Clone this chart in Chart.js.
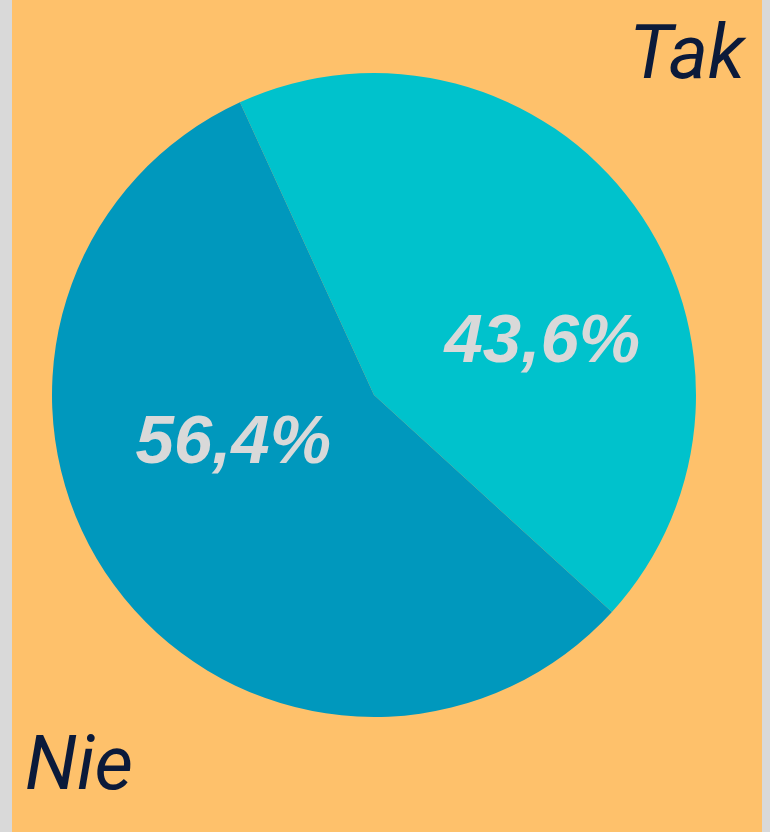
<!DOCTYPE html>
<html>
<head>
<meta charset="utf-8">
<script src="https://cdn.jsdelivr.net/npm/chart.js@4"></script>
<style>
  html, body { margin: 0; padding: 0; background: #d9d9d9; }
  #wrap { position: absolute; left: 12px; top: 0; width: 750px; height: 832px; background: #fec16b; }
</style>
</head>
<body>
<div id="wrap"><canvas id="grafico" width="750" height="832"></canvas></div>
<script>
const labels = ['Tak', 'Nie'];
const values = [43.6, 56.4];
const colors = ['#00c2cc', '#0098bd'];

// etiquetas de porcentaje dentro de cada porción
const pctLabels = {
  id: 'pctLabels',
  afterDatasetsDraw(chart) {
    const ctx = chart.ctx;
    const meta = chart.getDatasetMeta(0);
    const shift = [0.55, 0.46];
    ctx.save();
    ctx.font = 'italic bold 69px "Liberation Sans", Arial, sans-serif';
    ctx.fillStyle = '#d9d9d9';
    ctx.textAlign = 'center';
    ctx.textBaseline = 'middle';
    meta.data.forEach((arc, i) => {
      const mid = (arc.startAngle + arc.endAngle) / 2 + 18 * Math.PI / 180;
      const r = arc.outerRadius * shift[i];
      const x = arc.x + Math.cos(mid) * r;
      const y = arc.y + Math.sin(mid) * r + 3;
      const txt = values[i].toFixed(1).replace('.', ',') + '%';
      ctx.fillText(txt, x, y);
    });

    // nombres de las categorías en las esquinas
    ctx.font = 'italic 75px Roboto, sans-serif';
    ctx.fillStyle = '#0b1a3a';
    ctx.textBaseline = 'alphabetic';
    ctx.textAlign = 'right';
    ctx.fillText(labels[0], 733, 78);
    ctx.textAlign = 'left';
    ctx.fillText(labels[1], 13, 789);
    ctx.restore();
  }
};

const ctx = document.getElementById('grafico').getContext('2d');
new Chart(ctx, {
  type: 'pie',
  data: {
    labels: labels,
    datasets: [{
      data: values,
      backgroundColor: colors,
      borderWidth: 0
    }]
  },
  options: {
    responsive: false,
    animation: false,
    rotation: -24.6,
    layout: { padding: { top: 73, bottom: 115, left: 40, right: 66 } },
    plugins: {
      legend: { display: false },
      tooltip: { enabled: false }
    }
  },
  plugins: [pctLabels]
});
</script>
</body>
</html>
